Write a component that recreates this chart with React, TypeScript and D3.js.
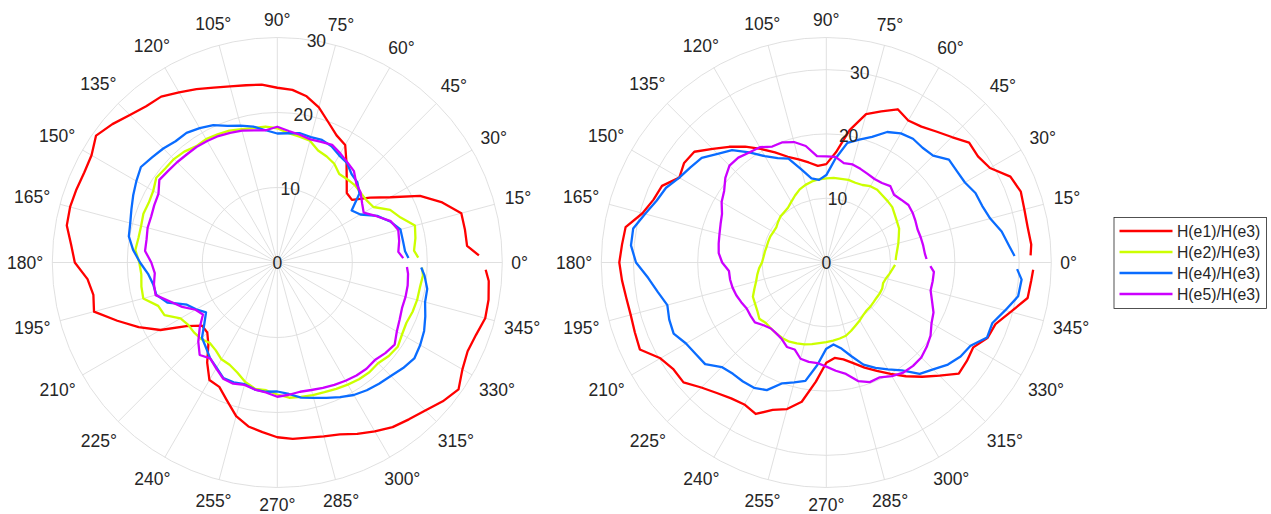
import React from 'react';
import * as d3 from 'd3';

// angles (degrees) at which each ratio was sampled
const THETA = [2,5,10,15,20,25,30,35,40,45,50,55,60,65,70,75,80,85,90,95,100,105,110,115,120,125,130,135,140,145,150,155,160,165,170,175,180,185,190,195,200,205,210,215,220,225,230,235,240,245,250,255,260,265,270,275,280,285,290,295,300,305,310,315,320,325,330,335,340,345,350,355,358];

// left polar plot
const LEFT_E1 = [26.9, 25.4,25.4,25.4,23.4,21.0,17.4,15.1,13.0,13.1, 14.4,16.1,18.1,18.7,19.9,21.4,22.5,23.1,23.3, 23.8,24.0,24.3,24.8,25.5,26.2,27.0,27.2,27.8, 28.7,29.5,28.6,28.4,28.5,28.6,28.5,27.6,27.0, 25.4,24.9,25.3,22.7,20.4,18.0,14.8,13.1,13.2, 14.3,16.3,18.1,18.3,19.6,21.2,22.2,22.7,23.3, 23.6,23.7,24.0,24.4,25.2,26.0,26.8,27.3,27.9, 28.8,29.5,28.5,28.0,28.2,28.7,28.6,28.3, 27.8];
const LEFT_E2 = [18.8, 18.3,18.7,19.0,17.5,16.6,14.8,14.5,14.5,14.6, 14.5,14.4,15.2,15.6,15.9,16.8,17.05,17.3,17.9, 18.2,18.2,18.4,18.7,18.85,19.0,18.9,19.3,19.5, 19.5,19.7,19.1,18.9,19.0,18.8,18.8,19.0,18.4, 18.2,18.4,18.5,16.9,16.6,14.9,14.5,14.5,14.4, 14.0,14.3,14.9,15.05,15.6,16.5,17.1,17.1,17.6, 18.1,18.2,18.3,18.4,18.6,18.8,19.0,19.1,19.0, 19.4,19.6,19.2,19.0,19.2,19.3,19.3,19.5, 19.3];
const LEFT_E4 = [17.5, 17.1,17.0,17.0,16.0,14.7,12.8,12.1,14.3,15.1, 15.4,16.2,16.5,17.1,17.4,17.3,17.5,17.3,17.2, 17.7,18.4,18.9,19.4,20.2,20.7,21.1,21.1,21.5, 21.8,22.2,21.7,21.2,20.7,20.3,20.1,19.3,18.3, 17.3,16.8,16.7,15.6,13.3,12.5,11.6,12.7,14.2, 14.8,15.6,16.2,17.0,17.0,16.8,17.2,17.3,17.2, 17.6,18.3,18.7,19.2,19.8,20.4,20.8,21.1,21.4, 21.9,22.3,22.0,21.6,21.0,20.4,20.3,19.7, 19.2];
const LEFT_E5 = [16.8, 16.2,16.5,16.7,16.1,14.6,13.3,13.8,14.5,14.9, 15.9,16.3,16.8,17.3,17.1,17.0,17.3,17.6,18.1, 17.7,17.9,18.2,18.4,18.6,18.7,18.8,18.8,18.9, 19.0,19.2,18.3,18.1,17.9,17.9,17.7,17.7,16.8, 16.4,16.7,16.8,15.2,14.0,12.6,12.1,13.5,14.9, 16.1,15.6,16.3,17.1,17.2,16.9,17.2,17.4,17.9, 17.7,17.5,17.6,17.8,18.0,18.2,18.4,18.5,18.4, 18.8,19.1,18.4,18.0,17.7,17.7,17.65,17.5, 17.3];

// right polar plot
const RIGHT_E1 = [31.8, 32.0,31.8,31.9,32.2,31.6,29.4,28.8,29.0,27.6, 26.6,25.8,25.5,26.3,25.0,23.9,20.9,17.2,15.3, 15.1,15.8,16.6,17.5,18.9,20.4,22.0,23.5,25.0, 26.8,27.0,26.4,28.2,28.6,29.6,31.7,31.9,32.2, 31.9,31.6,31.5,31.7,32.0,29.8,29.0,29.0,27.5, 26.5,25.8,25.5,26.0,24.4,23.6,22.0,18.6,15.6, 14.9,15.3,16.2,17.4,18.6,20.0,21.6,23.2,24.9, 26.9,26.7,26.4,27.7,28.0,29.7,31.8,32.0, 32.2];
const RIGHT_E2 = [10.8, 10.9,11.2,11.6,12.0,12.5,12.7,13.0,13.4,13.5, 13.6,13.8,13.7,13.3,13.2,13.3,13.2,13.2,13.1, 13.0,12.8,12.5,12.1,11.5,10.9,10.4,10.2,10.1, 9.8,9.5,9.5,9.6,9.6,9.6,9.7,9.8,10.0, 10.5,10.9,11.3,11.9,12.6,12.8,13.1,13.6,13.3, 13.4,13.5,13.6,13.6,13.4,13.2,12.9,12.6,12.4, 12.2,12.0,11.8,11.3,10.8,10.4,10.0,9.75,9.7, 9.6,9.55,9.6,9.6,9.4,9.6,10.0,10.4, 10.7];
const RIGHT_E4 = [29.3, 28.6,27.7,26.4,25.8,25.6,24.9,24.8,24.9,23.5, 23.3,23.5,23.2,22.4,20.8,19.8,18.9,16.2,13.6, 12.9,13.3,15.0,17.2,17.9,19.1,20.9,22.8,23.9, 25.3,25.8,26.4,27.5,28.1,29.2,30.5,30.5,29.6, 27.8,26.6,25.6,26.0,26.2,25.2,24.8,24.6,23.0, 22.6,22.6,22.5,21.9,20.0,19.3,18.7,16.0,13.4, 12.8,13.6,15.1,16.9,18.1,19.2,20.5,22.6,23.5, 24.7,25.5,25.9,27.6,27.5,28.8,30.3,30.5, 29.7];
const RIGHT_E5 = [15.6, 15.4,15.3,15.2,15.1,15.3,15.5,15.6,15.2,14.9, 15.5,15.1,15.0,15.2,15.5,15.8,15.7,16.5,16.5, 16.6,18.4,19.4,19.9,19.9,20.7,20.9,21.3,21.3, 20.5,19.4,18.8,17.9,17.5,17.2,17.0,16.8,16.2, 15.2,15.2,15.1,14.9,14.6,14.3,14.4,14.5,13.8, 13.4,13.5,13.8,14.5,14.4,15.5,15.7,15.7,16.2, 16.9,17.6,19.1,19.8,19.7,20.4,20.9,21.0,20.9, 20.4,19.8,18.9,18.4,17.5,16.8,16.8,16.8, 16.2];

const SERIES_NAMES = ['H(e1)/H(e3)', 'H(e2)/H(e3)', 'H(e4)/H(e3)', 'H(e5)/H(e3)'];
const SERIES_COLORS = ['#ff0000', '#ccff00', '#0a6cff', '#cc00ff'];
const ANGLE_TICKS = [0,15,30,45,60,75,90,105,120,135,150,165,180,195,210,225,240,255,270,285,300,315,330,345];
const LEFT_R_TICKS = [0, 10, 20, 30];
const RIGHT_R_TICKS = [0, 10, 20, 30];

const W = 1271, H = 514;
const CY = 262.5;
const R = 225;
const FONT = '"Liberation Sans", Arial, Helvetica, sans-serif';
const TXT = '#262626';
const GRID = '#dcdcdc';
const FS = 17.5;

type Pt = { t: number; r: number };

function PolarPanel({ cx, rmax, rTicks, series }: { cx: number; rmax: number; rTicks: number[]; series: number[][] }) {
  const rs = d3.scaleLinear().domain([0, rmax]).range([0, R]);
  const rings = rTicks.filter(t => t > 0);
  if (rings[rings.length - 1] !== rmax) rings.push(rmax);
  const line = d3.lineRadial<Pt>()
    .angle(d => ((90 - d.t) * Math.PI) / 180)
    .radius(d => rs(d.r))
    .curve(d3.curveLinear);
  const rad = (a: number) => (a * Math.PI) / 180;
  return (
    <g>
      {rings.map(t => (
        <circle key={'c' + t} cx={cx} cy={CY} r={rs(t)} fill="none" stroke={GRID} strokeWidth={0.9} />
      ))}
      {ANGLE_TICKS.map(a => (
        <line key={'s' + a} x1={cx} y1={CY} x2={cx + R * Math.cos(rad(a))} y2={CY - R * Math.sin(rad(a))} stroke={GRID} strokeWidth={0.9} />
      ))}
      {series.map((vals, i) => {
        const pts: Pt[] = THETA.map((t, j) => ({ t, r: vals[j] }));
        return (
          <path key={'p' + i} d={line(pts) || ''} transform={`translate(${cx},${CY})`} fill="none"
            stroke={SERIES_COLORS[i]} strokeWidth={2.3} strokeLinejoin="round" />
        );
      })}
      {ANGLE_TICKS.map(a => {
        const label = `${a}°`;
        const w = (String(a).length * 0.556 + 0.4) * FS;
        const c = Math.cos(rad(a)), s = Math.sin(rad(a));
        const dist = R + 9 + (w / 2) * Math.abs(c) + (s < 0 ? 8 : 9) * Math.abs(s);
        return (
          <text key={'a' + a} x={cx + dist * c} y={CY - dist * s + 0.358 * FS} textAnchor="middle"
            fontFamily={FONT} fontSize={FS} fill={TXT}>{label}</text>
        );
      })}
      {rTicks.map(t => (
        <text key={'r' + t} x={cx + rs(t) * Math.cos(rad(80))} y={CY - rs(t) * Math.sin(rad(80)) + 0.358 * FS}
          textAnchor="middle" fontFamily={FONT} fontSize={FS} fill={TXT}>{t}</text>
      ))}
    </g>
  );
}

export default function App() {
  const legX = 1114, legY = 217.5, legW = 152.5, legH = 91;
  return (
    <svg width={W} height={H} style={{ position: 'absolute', left: 0, top: 0, background: '#ffffff' }}>
      <rect x={0} y={0} width={W} height={H} fill="#ffffff" />
      <PolarPanel cx={277.3} rmax={30} rTicks={LEFT_R_TICKS} series={[LEFT_E1, LEFT_E2, LEFT_E4, LEFT_E5]} />
      <PolarPanel cx={826.3} rmax={35} rTicks={RIGHT_R_TICKS} series={[RIGHT_E1, RIGHT_E2, RIGHT_E4, RIGHT_E5]} />
      <g>
        <rect x={legX} y={legY} width={legW} height={legH} fill="#ffffff" stroke={TXT} strokeWidth={0.8} />
        {SERIES_NAMES.map((n, i) => {
          const y = 231 + i * 21;
          return (
            <g key={n}>
              <line x1={1119.5} x2={1172.5} y1={y} y2={y} stroke={SERIES_COLORS[i]} strokeWidth={2.3} />
              <text x={1177} y={y + 0.358 * 15.75} fontFamily={FONT} fontSize={15.75} fill={TXT}>{n}</text>
            </g>
          );
        })}
      </g>
    </svg>
  );
}
